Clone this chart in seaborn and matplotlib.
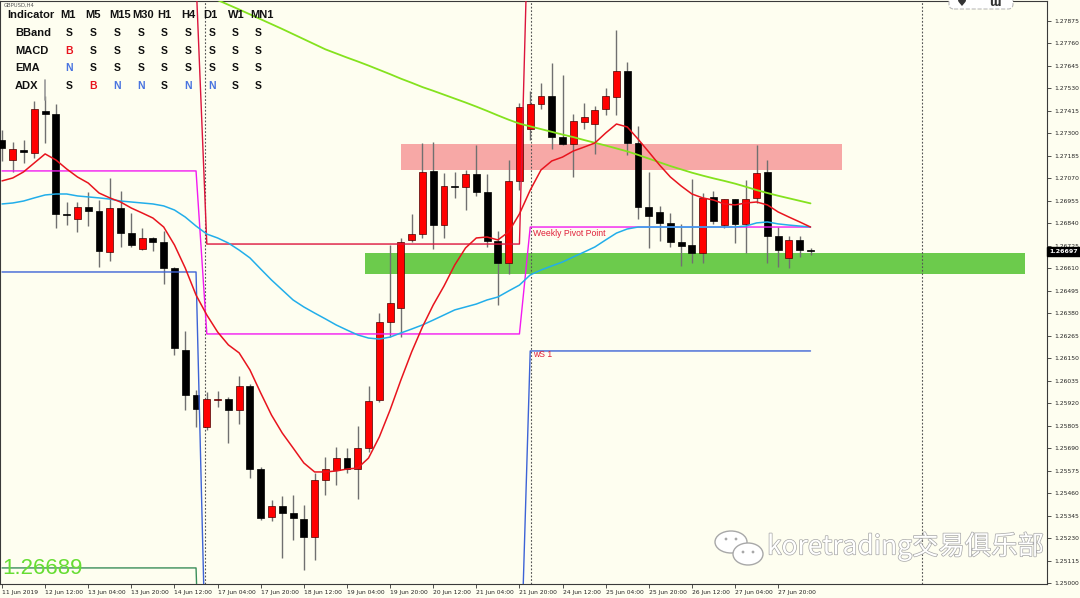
import numpy as np
import matplotlib
matplotlib.use("Agg")
import matplotlib.pyplot as plt
import matplotlib.patheffects as pe
from matplotlib.patches import Rectangle, Ellipse, FancyBboxPatch, Circle
from matplotlib.lines import Line2D
from matplotlib.transforms import IdentityTransform
import seaborn as sns

# ---------------- data (GBPUSD, H4) ----------------
opens = [1.27266,1.27164,1.27215,1.27200,1.27415,1.27399,1.26888,1.26862,1.26923,1.26903,
         1.26693,1.26918,1.26790,1.26709,1.26765,1.26744,1.26611,1.26192,1.25962,1.25798,
         1.25938,1.25941,1.25885,1.26008,1.25583,1.25338,1.25394,1.25358,1.25327,1.25235,
         1.25527,1.25578,1.25639,1.25583,1.25691,1.25936,1.26335,1.26407,1.26755,1.26785,
         1.27108,1.26831,1.27031,1.27026,1.27092,1.27000,1.26750,1.26637,1.27057,1.27322,
         1.27450,1.27491,1.27282,1.27246,1.27358,1.27348,1.27425,1.27486,1.27619,1.27251,
         1.26923,1.26898,1.26842,1.26744,1.26729,1.26688,1.26975,1.26831,1.26964,1.26837,
         1.26970,1.27103,1.26775,1.26663,1.26755,1.26705]
highs = [1.27317,1.27256,1.27266,1.27466,1.27491,1.27450,1.26949,1.26949,1.27000,1.26959,
         1.27072,1.27005,1.26893,1.26816,1.26770,1.26801,1.26615,1.26289,1.25987,1.25977,
         1.25982,1.25951,1.26059,1.26018,1.25593,1.25425,1.25445,1.25450,1.25399,1.25563,
         1.25645,1.25696,1.25691,1.25803,1.26008,1.26381,1.26729,1.26765,1.26888,1.27251,
         1.27256,1.27097,1.27103,1.27113,1.27241,1.27092,1.26801,1.27164,1.27455,1.27517,
         1.27558,1.27660,1.27599,1.27399,1.27455,1.27440,1.27532,1.27829,1.27665,1.27338,
         1.27103,1.26929,1.26893,1.26837,1.27067,1.26995,1.27005,1.26966,1.26966,1.27062,
         1.27241,1.27164,1.26821,1.26775,1.26775,1.26712]
lows = [1.27159,1.27103,1.27149,1.27174,1.27251,1.26816,1.26831,1.26796,1.26826,1.26617,
        1.26647,1.26719,1.26719,1.26703,1.26698,1.26530,1.26166,1.25885,1.25798,1.25783,
        1.25900,1.25716,1.25813,1.25537,1.25322,1.25317,1.25128,1.25220,1.25066,1.25118,
        1.25450,1.25501,1.25563,1.25430,1.25670,1.25926,1.26258,1.26258,1.26744,1.26765,
        1.26709,1.26765,1.26970,1.26908,1.26980,1.26719,1.26422,1.26581,1.27010,1.27266,
        1.27425,1.27220,1.27240,1.27077,1.27322,1.27195,1.27394,1.27394,1.27190,1.26862,
        1.26714,1.26750,1.26719,1.26622,1.26637,1.26637,1.26837,1.26816,1.26739,1.26688,
        1.26944,1.26637,1.26617,1.26611,1.26668,1.26678]
closes = [1.27225,1.27220,1.27205,1.27425,1.27399,1.26888,1.26883,1.26923,1.26903,1.26698,
          1.26918,1.26790,1.26729,1.26765,1.26744,1.26611,1.26202,1.25962,1.25890,1.25941,
          1.25941,1.25885,1.26008,1.25583,1.25332,1.25394,1.25358,1.25332,1.25235,1.25527,
          1.25583,1.25639,1.25583,1.25691,1.25931,1.26335,1.26432,1.26744,1.26785,1.27103,
          1.26831,1.27031,1.27026,1.27092,1.27000,1.26750,1.26637,1.27057,1.27435,1.27450,
          1.27491,1.27282,1.27246,1.27363,1.27384,1.27420,1.27491,1.27619,1.27251,1.26923,
          1.26877,1.26842,1.26744,1.26724,1.26688,1.26970,1.26852,1.26964,1.26837,1.26964,
          1.27097,1.26775,1.26703,1.26755,1.26703,1.26697]

ma_fast = [1.27057,1.27072,1.27103,1.27149,1.27195,1.27164,1.27118,1.27077,1.27046,1.26995,
           1.26970,1.26949,1.26918,1.26893,1.26867,1.26821,1.26729,1.26611,1.26473,1.26371,
           1.26284,1.26218,1.26177,1.26090,1.25972,1.25859,1.25767,1.25691,1.25614,1.25568,
           1.25568,1.25573,1.25583,1.25588,1.25639,1.25747,1.25885,1.26038,1.26182,1.26310,
           1.26422,1.26519,1.26627,1.26714,1.26765,1.26770,1.26755,1.26796,1.26888,1.27010,
           1.27113,1.27159,1.27179,1.27210,1.27230,1.27251,1.27302,1.27348,1.27333,1.27271,
           1.27205,1.27138,1.27077,1.27031,1.26990,1.26970,1.26959,1.26939,1.26934,1.26944,
           1.26949,1.26934,1.26898,1.26872,1.26847,1.26821]
ma_mid = [1.26939,1.26944,1.26954,1.26970,1.26985,1.26990,1.26990,1.26980,1.26975,1.26970,
          1.26964,1.26954,1.26949,1.26944,1.26939,1.26929,1.26908,1.26872,1.26826,1.26785,
          1.26765,1.26739,1.26703,1.26663,1.26606,1.26550,1.26499,1.26448,1.26412,1.26381,
          1.26351,1.26320,1.26294,1.26269,1.26253,1.26248,1.26258,1.26279,1.26299,1.26320,
          1.26345,1.26371,1.26397,1.26412,1.26427,1.26448,1.26463,1.26494,1.26524,1.26576,
          1.26601,1.26622,1.26642,1.26668,1.26693,1.26719,1.26755,1.26790,1.26811,1.26821,
          1.26821,1.26821,1.26821,1.26821,1.26821,1.26821,1.26821,1.26821,1.26821,1.26826,
          1.26842,1.26847,1.26837,1.26831,1.26826,1.26821]
ma_slow_start = 19
ma_slow = [1.28008,1.27982,1.27958,1.27934,1.27909,1.27884,1.27859,1.27834,1.27808,1.27782,
           1.27756,1.27730,1.27709,1.27688,1.27668,1.27647,1.27625,1.27603,1.27580,1.27559,
           1.27537,1.27518,1.27498,1.27478,1.27458,1.27437,1.27415,1.27392,1.27370,1.27350,
           1.27336,1.27322,1.27308,1.27294,1.27281,1.27266,1.27252,1.27238,1.27223,1.27208,
           1.27190,1.27171,1.27152,1.27133,1.27116,1.27099,1.27084,1.27070,1.27057,1.27043,
           1.27027,1.27010,1.26995,1.26981,1.26968,1.26955,1.26942]

week_start = [0, 19, 49]
week_pivot = [1.27108, 1.26274, 1.26821]
week_r1 = [1.28085, 1.26734, 1.28796]
week_s1 = [1.26591, 1.24340, 1.26187]
week_s2 = [1.25077, 1.23400, 1.24700]
separators = [18.85, 49.05, 85.35]

zone_res = [37.0, 77.9, 1.27113, 1.27246]   # x0, x1, low, high
zone_sup = [33.67, 94.9, 1.26583, 1.26688]

current_price = 1.26697

x_tick_labels = ["11 Jun 2019", "12 Jun 12:00", "13 Jun 04:00", "13 Jun 20:00", "14 Jun 12:00",
                 "17 Jun 04:00", "17 Jun 20:00", "18 Jun 12:00", "19 Jun 04:00", "19 Jun 20:00",
                 "20 Jun 12:00", "21 Jun 04:00", "21 Jun 20:00", "24 Jun 12:00", "25 Jun 04:00",
                 "25 Jun 20:00", "26 Jun 12:00", "27 Jun 04:00", "27 Jun 20:00"]
y_tick_labels = ["1.25000", "1.25115", "1.25230", "1.25345", "1.25460", "1.25575", "1.25690",
                 "1.25805", "1.25920", "1.26035", "1.26150", "1.26265", "1.26380", "1.26495",
                 "1.26610", "1.26725", "1.26840", "1.26955", "1.27070", "1.27185", "1.27300",
                 "1.27415", "1.27530", "1.27645", "1.27760", "1.27875"]

timeframes = ["M1", "M5", "M15", "M30", "H1", "H4", "D1", "W1", "MN1"]
indicators = ["BBand", "MACD", "EMA", "ADX"]
signals = [["S", "S", "S", "S", "S", "S", "S", "S", "S"],
           ["B", "S", "S", "S", "S", "S", "S", "S", "S"],
           ["N", "S", "S", "S", "S", "S", "S", "S", "S"],
           ["S", "B", "N", "N", "S", "N", "N", "S", "S"]]

# ---------------- style ----------------
sns.set_theme(style="white")
plt.rcParams["font.family"] = ["DejaVu Sans", "Noto Sans CJK SC"]
BG = "#FEFEF0"
W, H = 1080, 598

fig = plt.figure(figsize=(10.8, 5.98), dpi=100, facecolor=BG)
ax = fig.add_axes([0, 14 / H, 1047 / W, 583 / H])
ax.set_facecolor(BG)

n = len(opens)
idx = np.arange(n)
o = np.array(opens); c = np.array(closes); hi = np.array(highs); lo = np.array(lows)

# zones
for z, col in ((zone_res, "#F7A8A6"), (zone_sup, "#6CCB4C")):
    ax.add_patch(Rectangle((z[0], z[2]), z[1] - z[0], z[3] - z[2], facecolor=col,
                           edgecolor="none", zorder=1))

# period separators
for s in separators:
    ax.axvline(s, color="#555555", lw=0.8, ls=(0, (1.6, 1.6)), zorder=1.5)

# weekly levels -> per bar
def per_bar(vals):
    arr = np.empty(n)
    for k, s in enumerate(week_start):
        e = week_start[k + 1] if k + 1 < len(week_start) else n
        arr[s:e] = vals[k]
    return arr

for vals, col in ((week_s2, "#3A8E5A"), (week_s1, "#3D63D6"),
                  (week_r1, "#DC143C"), (week_pivot, "#F21AF0")):
    sns.lineplot(x=idx, y=per_bar(vals), ax=ax, color=col, linewidth=1.0, zorder=5)

# candles
up = c >= o
body_lo = np.minimum(o, c)
body_h = np.maximum(np.abs(c - o), 0.000025)
ax.vlines(idx, lo, hi, color="#707070", lw=1.0, zorder=3)
ax.bar(idx[up], body_h[up], bottom=body_lo[up], width=0.64, color="#FF0000",
       edgecolor="#4a0000", linewidth=0.5, zorder=4)
ax.bar(idx[~up], body_h[~up], bottom=body_lo[~up], width=0.64, color="#000000",
       edgecolor="#000000", linewidth=0.5, zorder=4)

# moving averages
sns.lineplot(x=idx, y=ma_mid, ax=ax, color="#22AEEA", linewidth=1.1, zorder=6)
sns.lineplot(x=idx[ma_slow_start:], y=ma_slow, ax=ax, color="#84E21E", linewidth=1.3, zorder=6)
sns.lineplot(x=idx, y=ma_fast, ax=ax, color="#E8141E", linewidth=1.1, zorder=6)

# level labels
ax.text(49.26, 1.26790, "Weekly Pivot Point", color="#E0203A", fontsize=6.2,
        family="Liberation Sans", ha="left", va="center", zorder=7)
ax.text(49.26, 1.26168, "wS 1", color="#E0203A", fontsize=6.2,
        family="Liberation Sans", ha="left", va="center", zorder=7)

# axes
ax.set_xlim(-2 / 10.78, 1045 / 10.78)
ax.set_ylim(1.249948, 1.279773)
ax.set_xlabel(""); ax.set_ylabel("")
ax.set_xticks(np.arange(0, n, 4)[:len(x_tick_labels)])
ax.set_xticklabels(x_tick_labels, fontsize=4.3, ha="left", color="#222222")
ax.yaxis.tick_right()
ax.set_yticks([float(v) for v in y_tick_labels])
ax.set_yticklabels(y_tick_labels, fontsize=4.3, color="#222222")
ax.tick_params(axis="x", bottom=True, direction="out", length=3, width=0.6, pad=1.5, color="#333333")
ax.tick_params(axis="y", right=True, left=False, direction="out", length=3, width=0.6, pad=2,
               color="#333333")
for sp in ax.spines.values():
    sp.set_visible(True); sp.set_color("#3a3a3a"); sp.set_linewidth(0.8)

ax.text(1.002, current_price, f"{current_price:.5f}", transform=ax.get_yaxis_transform(),
        color="white", fontsize=4.5, fontweight="bold", ha="left", va="center",
        bbox=dict(boxstyle="square,pad=0.3", fc="black", ec="black"), clip_on=False, zorder=10)

# ---------------- overlay texts ----------------
def P(x, y):
    return x / W, 1 - y / H

fig.text(*P(4, 5), "GBPUSD,H4", fontsize=3.8, color="#555555", ha="left", va="center")
fig.text(*P(7, 15), "Indicator", fontsize=8, fontweight="bold", family="Liberation Sans",
         ha="left", va="center", color="#111111")
head_x = [68, 93, 120.5, 143.5, 164, 188, 210.5, 236, 262]
val_x = [69, 93, 117, 141, 164, 188, 212, 235, 258]
row_y = [33, 51, 68, 86]
sig_col = {"S": "#111111", "B": "#E8141E", "N": "#4A74E0"}
for tf, x in zip(timeframes, head_x):
    fig.text(*P(x, 15), tf, fontsize=8, fontweight="bold", family="Liberation Sans",
             ha="center", va="center", color="#111111")
for r, (name, y) in enumerate(zip(indicators, row_y)):
    fig.text(*P(15, y), name, fontsize=8, fontweight="bold", family="Liberation Sans",
             ha="left", va="center", color="#111111")
    for s, x in zip(signals[r], val_x):
        fig.text(*P(x, y), s, fontsize=7.5, fontweight="bold", family="Liberation Sans",
                 ha="center", va="center", color=sig_col[s])
fig.add_artist(Line2D([45, 45], [H - 80, H - 100], transform=IdentityTransform(),
                      color="#999999", lw=1.2))

fig.text(*P(2, 569), "1.26689", fontsize=16, family="Liberation Sans", color="#66DD33",
         ha="left", va="center")

# top-right overlay box
fig.add_artist(FancyBboxPatch((949, H - 9), 64, 16, boxstyle="round,pad=0,rounding_size=5",
                              transform=IdentityTransform(), fc="white", ec="#bbbbbb",
                              lw=0.8, ls="--"))
fig.text(*P(962, 3), "\u2665", fontsize=8, color="#333333", ha="center", va="center")
fig.text(*P(995, 3), "\u026f", fontsize=8, fontweight="bold", color="#333333", ha="center", va="center")

# watermark
T = IdentityTransform()
for (cx, cy, w, h) in ((731, 542, 32, 22), (748, 554, 30, 22)):
    fig.add_artist(Ellipse((cx, H - cy), w, h, transform=T, fc="white", ec="#a8a8a8", lw=1.0))
for (ex, ey) in ((726, 539), (736, 539), (743, 552), (753, 552)):
    fig.add_artist(Circle((ex, H - ey), 1.4, transform=T, fc="#a8a8a8", ec="none"))
fig.text(*P(767, 546), "koretrading交易俱乐部", fontsize=19, family=["Noto Sans CJK SC", "DejaVu Sans"],
         color="white", ha="left", va="center",
         path_effects=[pe.withStroke(linewidth=1.0, foreground="#a6a6a6")])

fig.savefig("out.png", dpi=100, facecolor=BG)
